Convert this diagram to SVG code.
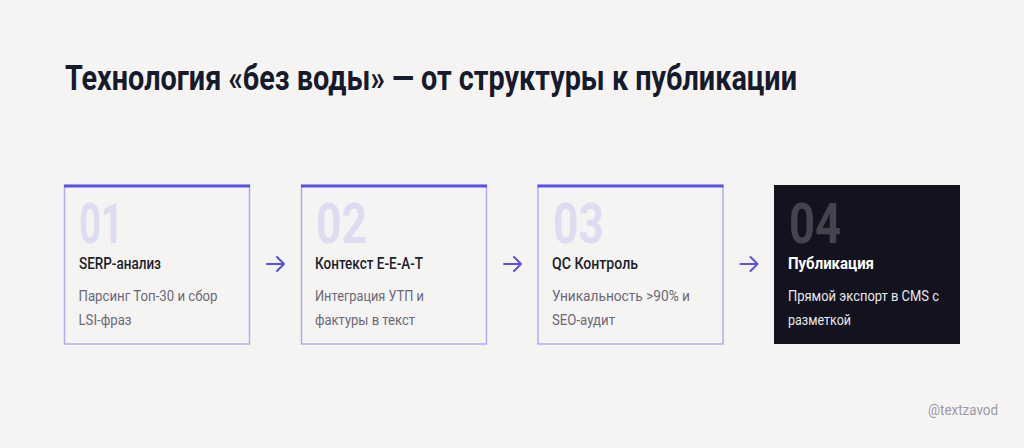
<svg xmlns="http://www.w3.org/2000/svg" width="1024" height="448" viewBox="0 0 1024 448">
<style>
.bg{fill:#f5f4f2}
.box{fill:#f5f4f2;stroke:#b1acf0;stroke-width:1.5}
.dark{fill:#13131f}
.bar{fill:#5a50e3}
.title{font-family:Roboto,"Liberation Sans",sans-serif;font-weight:700;font-size:35px;fill:#161a2d}
.num{font-family:Roboto,"Liberation Sans",sans-serif;font-weight:700;font-size:56px;fill:#dddcf0}
.numd{font-family:Roboto,"Liberation Sans",sans-serif;font-weight:700;font-size:56px;fill:#44444f}
.h{font-family:Roboto,"Liberation Sans",sans-serif;font-weight:500;font-size:17px;fill:#1b1e2d}
.hd{font-family:Roboto,"Liberation Sans",sans-serif;font-weight:700;font-size:17px;fill:#ffffff}
.d{font-family:Roboto,"Liberation Sans",sans-serif;font-weight:400;font-size:15.5px;fill:#6a6878}
.dd{font-family:Roboto,"Liberation Sans",sans-serif;font-weight:400;font-size:15.5px;fill:#e8e8ee}
.wm{font-family:Roboto,"Liberation Sans",sans-serif;font-weight:400;font-size:15px;fill:#9a99aa}
.arr{fill:none;stroke:#5a50e3;stroke-width:2;stroke-linecap:round;stroke-linejoin:round}
</style>
<rect class="bg" x="0" y="0" width="1024" height="448"/>
<text class="title" x="65" y="90" textLength="732" lengthAdjust="spacingAndGlyphs">Технология «без воды» — от структуры к публикации</text>

<g id="node1">
<rect class="box" x="64.5" y="185.5" width="185" height="158.5"/>
<rect class="bar" x="64" y="184.5" width="186" height="3"/>
<text class="num" x="79" y="243" textLength="44" lengthAdjust="spacingAndGlyphs">01</text>
<text class="h" x="79" y="269" textLength="82" lengthAdjust="spacingAndGlyphs">SERP-анализ</text>
<text class="d" x="78.5" y="301" textLength="139" lengthAdjust="spacingAndGlyphs">Парсинг Топ-30 и сбор</text>
<text class="d" x="78.5" y="325" textLength="53" lengthAdjust="spacingAndGlyphs">LSI-фраз</text>
</g>

<g id="node2">
<rect class="box" x="301.5" y="185.5" width="185" height="158.5"/>
<rect class="bar" x="301" y="184.5" width="186" height="3"/>
<text class="num" x="316" y="243" textLength="51" lengthAdjust="spacingAndGlyphs">02</text>
<text class="h" x="315" y="269" textLength="108" lengthAdjust="spacingAndGlyphs">Контекст E-E-A-T</text>
<text class="d" x="315" y="301" textLength="109" lengthAdjust="spacingAndGlyphs">Интеграция УТП и</text>
<text class="d" x="315" y="325" textLength="100" lengthAdjust="spacingAndGlyphs">фактуры в текст</text>
</g>

<g id="node3">
<rect class="box" x="538" y="185.5" width="185" height="158.5"/>
<rect class="bar" x="537.5" y="184.5" width="186" height="3"/>
<text class="num" x="553" y="243" textLength="51" lengthAdjust="spacingAndGlyphs">03</text>
<text class="h" x="552" y="269" textLength="86" lengthAdjust="spacingAndGlyphs">QC Контроль</text>
<text class="d" x="552" y="301" textLength="138" lengthAdjust="spacingAndGlyphs">Уникальность &gt;90% и</text>
<text class="d" x="552" y="325" textLength="63" lengthAdjust="spacingAndGlyphs">SEO-аудит</text>
</g>

<g id="node4">
<rect class="dark" x="774" y="185" width="186" height="159"/>
<text class="numd" x="789" y="243" textLength="52" lengthAdjust="spacingAndGlyphs">04</text>
<text class="hd" x="788" y="269" textLength="86" lengthAdjust="spacingAndGlyphs">Публикация</text>
<text class="dd" x="788" y="301" textLength="151" lengthAdjust="spacingAndGlyphs">Прямой экспорт в CMS с</text>
<text class="dd" x="788" y="325" textLength="63" lengthAdjust="spacingAndGlyphs">разметкой</text>
</g>

<g id="connectors">
<path class="arr" d="M267 264 H284 M277 257 L284 264 L277 271"/>
<path class="arr" d="M504 264 H521 M514 257 L521 264 L514 271"/>
<path class="arr" d="M740.5 264 H757.5 M750.5 257 L757.5 264 L750.5 271"/>
</g>

<text class="wm" x="998" y="415" text-anchor="end" textLength="70" lengthAdjust="spacingAndGlyphs">@textzavod</text>
</svg>
